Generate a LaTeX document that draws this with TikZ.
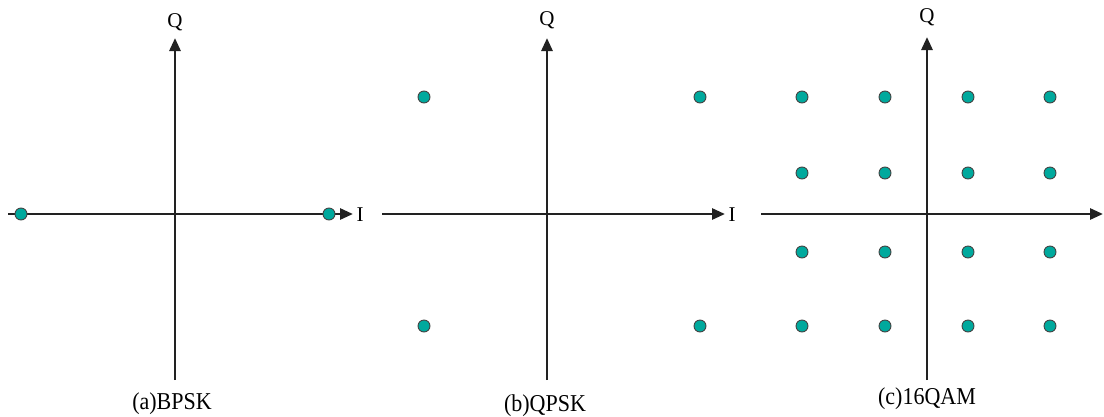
\documentclass[tikz,border=0pt]{standalone}
\usepackage{fontspec}
\setmainfont{Liberation Serif}
\usetikzlibrary{arrows.meta}
\definecolor{dotfill}{HTML}{00A99D}
\definecolor{axisc}{HTML}{222222}
\begin{document}
\begin{tikzpicture}[x=1pt,y=-1pt,
  axis/.style={line width=2.8pt,draw=axisc,-{Triangle[length=13pt,width=11pt]}},
  pt/.style={circle,fill=dotfill,draw=axisc!85,line width=0.9pt,minimum size=12pt,inner sep=0pt},
  lbl/.style={font=\fontsize{21}{21}\selectfont,inner sep=0pt},
  captext/.style={font=\fontsize{22}{22}\selectfont,inner sep=0pt,yscale=1.1},
  ]
\useasboundingbox (0,0) rectangle (1104,416);
% panel a
\coordinate (a0) at (175,380);
\coordinate (a1) at (175,38);
\coordinate (ah0) at (8,214);
\coordinate (ah1) at (353,214);
\draw[axis] (a0) -- (a1);
\draw[axis] (ah0) -- (ah1);
\node[pt] (pa1) at (21,214) {};
\node[pt] (pa2) at (329,214) {};
\node[lbl] (qa) at (175,22) {Q};
\node[lbl] (ia) at (360,215) {I};
\node[captext] (ca) at (172,404) {(a)BPSK};
% panel b
\coordinate (b0) at (547,380);
\coordinate (b1) at (547,38);
\coordinate (bh0) at (382,214);
\coordinate (bh1) at (725,214);
\draw[axis] (b0) -- (b1);
\draw[axis] (bh0) -- (bh1);
\node[pt] (pb1) at (424,97) {};
\node[pt] (pb2) at (700,97) {};
\node[pt] (pb3) at (424,326) {};
\node[pt] (pb4) at (700,326) {};
\node[lbl] (qb) at (547,20) {Q};
\node[lbl] (ib) at (732,215) {I};
\node[captext] (cb) at (545,406) {(b)QPSK};
% panel c
\coordinate (c0) at (927,380);
\coordinate (c1) at (927,37);
\coordinate (ch0) at (761,214);
\coordinate (ch1) at (1103,214);
\draw[axis] (c0) -- (c1);
\draw[axis] (ch0) -- (ch1);
\foreach \x [count=\i] in {802,885,968,1050}{
  \foreach \y [count=\j] in {97,173,252,326}{
    \node[pt] (pc\i\j) at (\x,\y) {};
  }
}
\node[lbl] (qc) at (927,17) {Q};
\node[captext] (cc) at (927,399) {(c)16QAM};
\end{tikzpicture}
\end{document}
